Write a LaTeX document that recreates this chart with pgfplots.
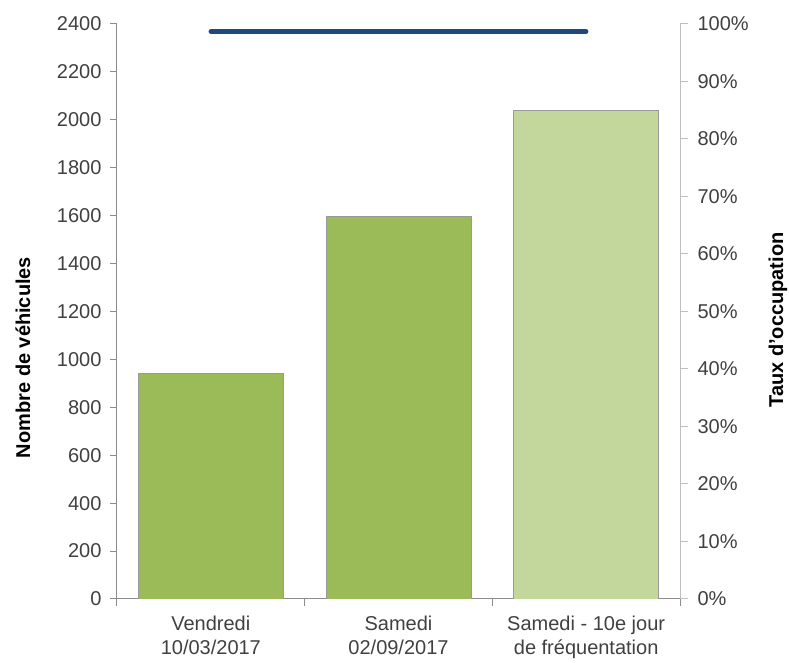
\documentclass[border=0pt]{standalone}
\usepackage{fontspec}
\setmainfont{Liberation Sans}
\usepackage{pgfplots}
\pgfplotsset{compat=1.18}
\definecolor{barA}{HTML}{9BBB59}
\definecolor{barB}{HTML}{C3D69B}
\definecolor{lineC}{HTML}{1F497D}
\definecolor{axisL}{HTML}{8C8C8C}
\definecolor{axisR}{HTML}{BFBFBF}
\definecolor{txt}{HTML}{404040}
\begin{document}
\begin{tikzpicture}[font=\fontsize{20}{24}\selectfont]
\path[use as bounding box] (-117pt,-64pt) rectangle (672pt,599pt);
% left axis: vehicles
\begin{axis}[
  width=563pt, height=575pt, scale only axis,
  xmin=-0.5, xmax=2.5, ymin=0, ymax=2400,
  axis x line*=bottom, axis y line*=left,
  axis line style={axisL, line width=1pt, -},
  ytick={0,200,...,2400},
  xtick={0,1,2},
  xticklabels={{Vendredi\\10/03/2017},{Samedi\\02/09/2017},{Samedi - 10e jour\\de fréquentation}},
  xticklabel style={align=center, text=txt, yshift=-6pt},
  major x tick style={draw=none},
  minor xtick={-0.5,0.5,1.5,2.5},
  tick align=outside, major tick length=7pt, minor tick length=7pt,
  tick style={axisL, line width=1pt},
  yticklabel style={text=txt, xshift=-5pt},
  /pgf/number format/assume math mode=true,
  /pgf/number format/1000 sep={},
  ylabel={Nombre de véhicules},
  every axis y label/.style={at={(axis description cs:-0.167,0.42)}, rotate=90, anchor=center, font=\fontsize{20}{24}\selectfont\bfseries},
  ybar, bar width=145pt,
]
\addplot[fill=barA, draw=gray!80, line width=0.8pt, bar shift=0pt] coordinates {(0,940) (1,1598)};
\addplot[fill=barB, draw=gray!80, line width=0.8pt, bar shift=0pt] coordinates {(2,2038)};
\end{axis}
% right axis: occupancy
\begin{axis}[
  width=563pt, height=575pt, scale only axis,
  xmin=-0.5, xmax=2.5, ymin=0, ymax=100,
  axis x line=none, axis y line*=right,
  axis line style={axisR, line width=1pt, -},
  ytick={0,10,...,100},
  yticklabel={\pgfmathprintnumber{\tick}\%},
  tick align=outside, major tick length=8pt,
  tick style={axisR, line width=1pt},
  yticklabel style={text=txt, xshift=6pt},
  /pgf/number format/assume math mode=true,
  ylabel={Taux d\char"0027 occupation},
  every axis y label/.style={at={(axis description cs:1.174,0.485)}, rotate=90, anchor=center, font=\fontsize{20}{24}\selectfont\bfseries},
]
\addplot[lineC, line width=4.5pt, line cap=round, mark=none] coordinates {(0,98.7) (1,98.7) (2,98.7)};
\end{axis}
\end{tikzpicture}
\end{document}
